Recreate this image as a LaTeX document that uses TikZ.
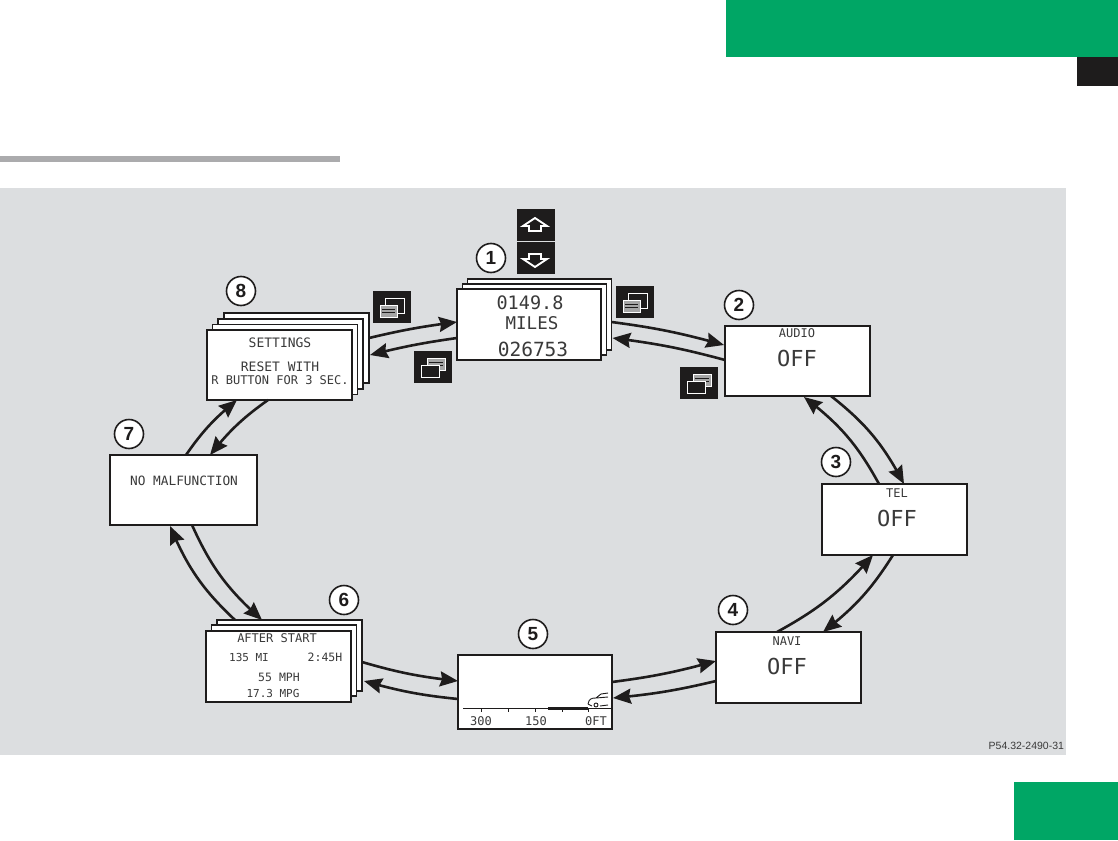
\documentclass[tikz,border=0pt]{standalone}
\usepackage{fontspec}
\setmainfont{DejaVu Sans Mono}
\setsansfont{Liberation Sans}
\usetikzlibrary{arrows.meta,calc,bending}
\definecolor{brandgreen}{HTML}{00A665}
\definecolor{panelgray}{HTML}{DCDEE0}
\definecolor{rulegray}{HTML}{ABABAD}
\definecolor{inkdark}{HTML}{1E1C1C}
\definecolor{lcdink}{HTML}{3A3A3A}
\newcommand{\lcd}[1]{\fontsize{#1}{#1}\selectfont}
\tikzset{
  screen/.style={draw=inkdark,fill=white,line width=1.7pt,inner sep=0pt,outer sep=0pt,minimum width=#1},
  screen/.default=144pt,
  lbl/.style={text=lcdink,inner sep=0pt,outer sep=0pt},
  numcircle/.style={circle,draw=inkdark,fill=white,line width=1.6pt,minimum size=29pt,inner sep=0pt,text=inkdark,font=\sffamily\bfseries\fontsize{19}{19}\selectfont},
  link/.style={draw=inkdark,line width=2.6pt,-{Stealth[length=18pt,width=15pt,inset=2pt]}},
  iconsq/.style={fill=inkdark,draw=none,minimum width=38pt,minimum height=32pt,inner sep=0pt,outer sep=0pt},
  winlined/.pic={
    \draw[white,line width=1pt,fill=inkdark] (12,7) rectangle (31,22);
    \draw[white,line width=1pt,fill=gray!70] (7,14) rectangle (24,26);
    \draw[inkdark,line width=.8pt] (9,18)--(22,18) (9,21)--(22,21);
  },
  winplain/.pic={
    \draw[white,line width=1pt,fill=gray!70] (13,7) rectangle (31,19);
    \draw[inkdark,line width=.8pt] (15,11)--(29,11) (15,14)--(29,14);
    \draw[white,line width=1pt,fill=inkdark] (7,14) rectangle (25,26);
  }
}
\begin{document}
\begin{tikzpicture}[x=1pt,y=-1pt]
\useasboundingbox (0,0) rectangle (1118,840);
\fill[white] (0,0) rectangle (1118,840);
% page furniture
\fill[brandgreen] (726,0) rectangle (1118,57);
\fill[inkdark] (1077,57) rectangle (1118,86);
\fill[rulegray] (0,156) rectangle (340,162);
\fill[panelgray] (0,188) rectangle (1066,755);
\fill[brandgreen] (1014,782) rectangle (1118,840);
\node[lbl,anchor=east,font=\sffamily\fontsize{10.5}{10.5}\selectfont] (code) at (1064,746) {P54.32-2490-31};

% screens
\node[screen,minimum height=71pt] (b1c) at (539.5,314.5) {};
\node[screen,minimum height=71pt] (b1b) at (534.5,319.5) {};
\node[screen,minimum height=71pt] (b1) at (529,324.5) {};
\node[screen=145pt,minimum height=70pt] (b2) at (797.5,361) {};
\node[screen=145pt,minimum height=71pt] (b3) at (894.5,519.5) {};
\node[screen=145pt,minimum height=71pt] (b4) at (788.5,667.5) {};
\node[screen=154pt,minimum height=74pt] (b5) at (535,692) {};
\node[screen=145pt,minimum height=71pt] (b6c) at (289.5,655.5) {};
\node[screen=145pt,minimum height=71pt] (b6b) at (284,660.5) {};
\node[screen=145pt,minimum height=71pt] (b6) at (278.5,666.5) {};
\node[screen=147pt,minimum height=70pt] (b7) at (183.5,490) {};
\node[screen=145pt,minimum height=70pt] (b8d) at (296.5,348) {};
\node[screen=145pt,minimum height=70pt] (b8c) at (290.5,354) {};
\node[screen=145pt,minimum height=70pt] (b8b) at (285,359.5) {};
\node[screen=145pt,minimum height=70pt] (b8) at (279.5,365) {};

% screen text
\node[lbl,font=\lcd{18.5}] (t1a) at (530,303) {0149.8};
\node[lbl,font=\lcd{17.5}] (t1b) at (532,323) {MILES};
\node[lbl,font=\lcd{19.5}] (t1c) at (533,349) {026753};
\node[lbl,font=\lcd{12}] (t2a) at (797,333) {AUDIO};
\node[lbl,font=\lcd{22}] (t2b) at (797,358) {OFF};
\node[lbl,font=\lcd{12}] (t3a) at (897,493) {TEL};
\node[lbl,font=\lcd{22}] (t3b) at (897,518) {OFF};
\node[lbl,font=\lcd{12}] (t4a) at (787,641) {NAVI};
\node[lbl,font=\lcd{22}] (t4b) at (787,666) {OFF};
\node[lbl,font=\lcd{13}] (t8a) at (280,343) {SETTINGS};
\node[lbl,font=\lcd{13}] (t8b) at (280,367) {RESET WITH};
\node[lbl,font=\lcd{12}] (t8c) at (280,380) {R BUTTON FOR 3 SEC.};
\node[lbl,font=\lcd{12.8}] (t7) at (184,481) {NO MALFUNCTION};
\node[lbl,font=\lcd{12}] (t6a) at (277,638) {AFTER START};
\node[lbl,font=\lcd{11}] (t6b) at (249,657) {135 MI};
\node[lbl,font=\lcd{11.5}] (t6c) at (325,657) {2:45H};
\node[lbl,font=\lcd{11.5}] (t6d) at (279,677) {55 MPH};
\node[lbl,font=\lcd{11}] (t6e) at (273,693) {17.3 MPG};
\node[lbl,font=\lcd{12}] (t5a) at (481,721) {300};
\node[lbl,font=\lcd{12}] (t5b) at (536,721) {150};
\node[lbl,font=\lcd{12}] (t5c) at (596,721) {0FT};

% scale and car in screen 5
\draw[inkdark,line width=1pt] (463,708)--(612,708);
\draw[inkdark,line width=2.4pt] (548,708.5)--(588,708.5);
\foreach \tx in {481,508,535,562,588} \draw[inkdark,line width=1pt] (\tx,708)--(\tx,712);
\draw[inkdark,line width=.9pt,line join=round]
  (588,704) .. controls (589,699) and (591,698) .. (596,698) -- (601,694) -- (608,693)
  (596,698) -- (608,697) (588,704) -- (592,706) (600,706) -- (608,705);
\draw[inkdark,line width=.9pt] (596,705) circle (2pt);

% number circles
\node[numcircle] (n1) at (491,258) {1};
\node[numcircle] (n2) at (739,305) {2};
\node[numcircle] (n3) at (836,462) {3};
\node[numcircle] (n4) at (733,610) {4};
\node[numcircle] (n5) at (533,634) {5};
\node[numcircle] (n6) at (344,600) {6};
\node[numcircle] (n7) at (129,434) {7};
\node[numcircle] (n8) at (241,291) {8};

% key icons
\node[iconsq,anchor=north west] (up) at (517,209) {};
\draw[white,line width=1.9pt,line join=miter] (535,218)--(547,226)--(541,226)--(541,231)--(529,231)--(529,226)--(523,226)--cycle;
\node[iconsq,anchor=north west] (down) at (517,242) {};
\draw[white,line width=1.9pt,line join=miter] (535,267)--(547,259)--(541,259)--(541,254)--(529,254)--(529,259)--(523,259)--cycle;
\node[iconsq,anchor=north west] (w1) at (616,286) {};
\pic at (w1.north west) {winlined};
\node[iconsq,anchor=north west] (w2) at (373,291) {};
\pic at (w2.north west) {winlined};
\node[iconsq,anchor=north west] (w3) at (414,351) {};
\pic at (w3.north west) {winplain};
\node[iconsq,anchor=north west] (w4) at (680,367) {};
\pic at (w4.north west) {winplain};

% connectors (clockwise and counter-clockwise rings)
\draw[link] ($(b1c.north east)+(0,43)$) to[bend left=4] ($(b2.north west)+(-1,19)$);
\draw[link] ($(b2.north west)+(0,34)$) to[bend right=4] ($(b1c.north east)+(1,59)$);
\draw[link] ($(b2.south west)+(106,0)$) to[bend left=12] ($(b3.north west)+(82,0)$);
\draw[link] ($(b3.north west)+(57,0)$) to[bend right=12] ($(b2.south west)+(79,1)$);
\draw[link] ($(b3.south west)+(71,0)$) to[bend left=10] ($(b4.north west)+(107,0)$);
\draw[link] ($(b4.north west)+(61,0)$) to[bend right=10] ($(b3.south west)+(51,0)$);
\draw[link] ($(b4.north west)+(0,49)$) to[bend left=4] ($(b5.north east)+(1,43)$);
\draw[link] ($(b5.north east)+(0,27)$) to[bend right=4] ($(b4.north west)+(0,29)$);
\draw[link] ($(b5.north west)+(0,44)$) to[bend left=5] ($(b6c.north east)+(2,61)$);
\draw[link] ($(b6c.north east)+(0,42)$) to[bend right=5] ($(b5.north west)+(0,26)$);
\draw[link] ($(b6c.north west)+(18,0)$) to[bend left=12] ($(b7.south west)+(60,1)$);
\draw[link] ($(b7.south west)+(82,0)$) to[bend right=12] ($(b6c.north west)+(45,0)$);
\draw[link] ($(b7.north west)+(76,0)$) to[bend left=8] ($(b8.south west)+(30,0)$);
\draw[link] ($(b8.south west)+(61,0)$) to[bend right=8] ($(b7.north west)+(100,0)$);
\draw[link] ($(b8d.north east)+(0,25)$) to[bend left=3] ($(b1.north west)+(0,33)$);
\draw[link] ($(b1.north west)+(0,49)$) to[bend right=3] ($(b8d.north east)+(1,42)$);
\end{tikzpicture}
\end{document}
